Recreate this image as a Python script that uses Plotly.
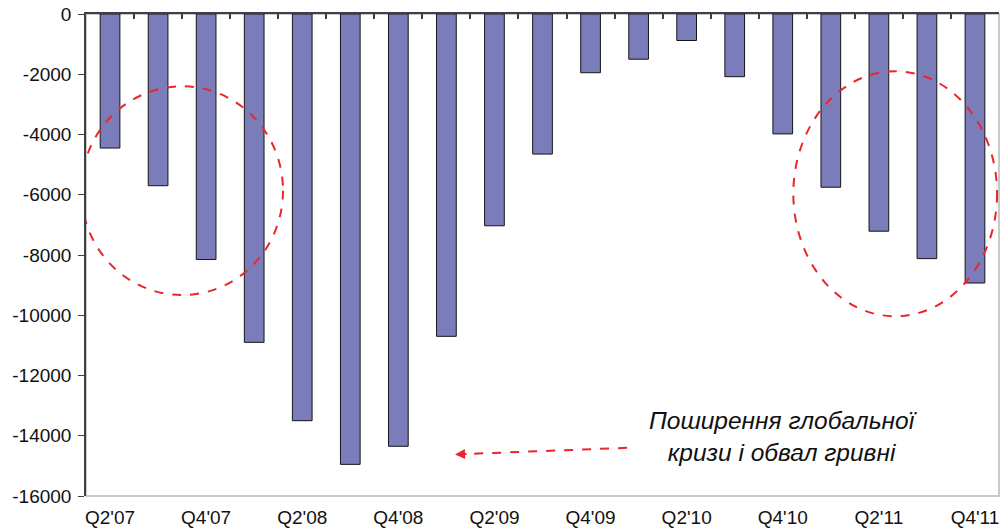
import plotly.graph_objects as go

quarters = ["Q2'07", "Q3'07", "Q4'07", "Q1'08", "Q2'08", "Q3'08", "Q4'08", "Q1'09",
            "Q2'09", "Q3'09", "Q4'09", "Q1'10", "Q2'10", "Q3'10", "Q4'10", "Q1'11",
            "Q2'11", "Q3'11", "Q4'11"]
balance = [-4450, -5700, -8150, -10900, -13500, -14950, -14350, -10700, -7030, -4650,
           -1950, -1500, -880, -2080, -3980, -5750, -7210, -8120, -8930]
y_ticks = [0, -2000, -4000, -6000, -8000, -10000, -12000, -14000, -16000]
y_labels = ["0", "-2000", "-4000", "-6000", "-8000", "-10000", "-12000", "-14000", "-16000"]
x_tick_labels = quarters[::2]
note_text = "<i>Поширення глобальної<br>кризи і обвал гривні</i>"

font_family = "Liberation Sans, Arial, sans-serif"
red = "#E8262B"
n = len(quarters)

fig = go.Figure()
fig.add_trace(go.Bar(
    x=quarters, y=balance,
    marker=dict(color="#7B7CBA", line=dict(color="#151515", width=1)),
    width=0.41, showlegend=False, hoverinfo="x+y",
))
# invisible copy that carries the top axis (zero line with category ticks)
fig.add_trace(go.Bar(
    x=quarters, y=balance, xaxis="x2",
    marker=dict(color="rgba(0,0,0,0)", line=dict(width=0)),
    width=0.41, showlegend=False, hoverinfo="skip",
))

# dashed circles
fig.add_shape(type="circle", xref="x", yref="y", x0=-0.6, x1=3.6, y0=-9330, y1=-2400,
              line=dict(color=red, width=2, dash="dash"), layer="above")
fig.add_shape(type="circle", xref="x", yref="y", x0=14.22, x1=18.46, y0=-10035, y1=-1900,
              line=dict(color=red, width=2, dash="dash"), layer="above")
# dashed arrow line
fig.add_shape(type="line", xref="x", yref="y", x0=10.76, y0=-14400, x1=7.35, y1=-14610,
              line=dict(color=red, width=2, dash="dash"))
fig.add_annotation(x=7.18, y=-14620, ax=7.45, ay=-14603, xref="x", yref="y",
                   axref="x", ayref="y", text="", showarrow=True,
                   arrowhead=2, arrowsize=1, arrowwidth=2, arrowcolor=red)
fig.add_annotation(x=14.02, y=-14020, xref="x", yref="y", text=note_text,
                   showarrow=False, xanchor="center", yanchor="middle",
                   font=dict(family=font_family, size=24.5, color="#111111"))

# plot frame (light gray)
fig.add_shape(type="rect", xref="paper", yref="paper", x0=0, x1=1, y0=0, y1=1,
              line=dict(color="#B8B8B8", width=1.5), layer="below")

fig.update_layout(
    width=1002, height=530,
    margin=dict(l=86, r=3, t=14, b=34),
    paper_bgcolor="white", plot_bgcolor="white",
    font=dict(family=font_family, size=19, color="#111111"),
    xaxis=dict(
        type="category", tickvals=x_tick_labels, ticktext=x_tick_labels,
        showgrid=False, showline=False, zeroline=False, ticks="",
        tickfont=dict(size=19), range=[-0.5, n - 0.5], automargin=False,
        ticklabelstandoff=8,
    ),
    xaxis2=dict(
        type="category", overlaying="x", side="top", anchor="y", range=[-0.5, n - 0.5],
        ticks="inside", tickson="boundaries", ticklen=5, dtick=1,
        tickcolor="#404040", tickwidth=1.5, showticklabels=False, showline=True,
        linecolor="#404040", linewidth=1.5, showgrid=False, zeroline=False,
        automargin=False,
    ),
    yaxis=dict(
        range=[-16000, 0], tickvals=y_ticks, ticktext=y_labels,
        showgrid=False, zeroline=False, showline=True, linecolor="#404040", linewidth=1.5,
        ticks="outside", ticklen=6, tickcolor="#404040", tickfont=dict(size=19),
        automargin=False, ticklabelstandoff=3,
    ),
)

fig.write_html("out.html", config={"displayModeBar": False},
               post_script="document.body.style.margin='0';document.body.style.overflow='hidden';")
